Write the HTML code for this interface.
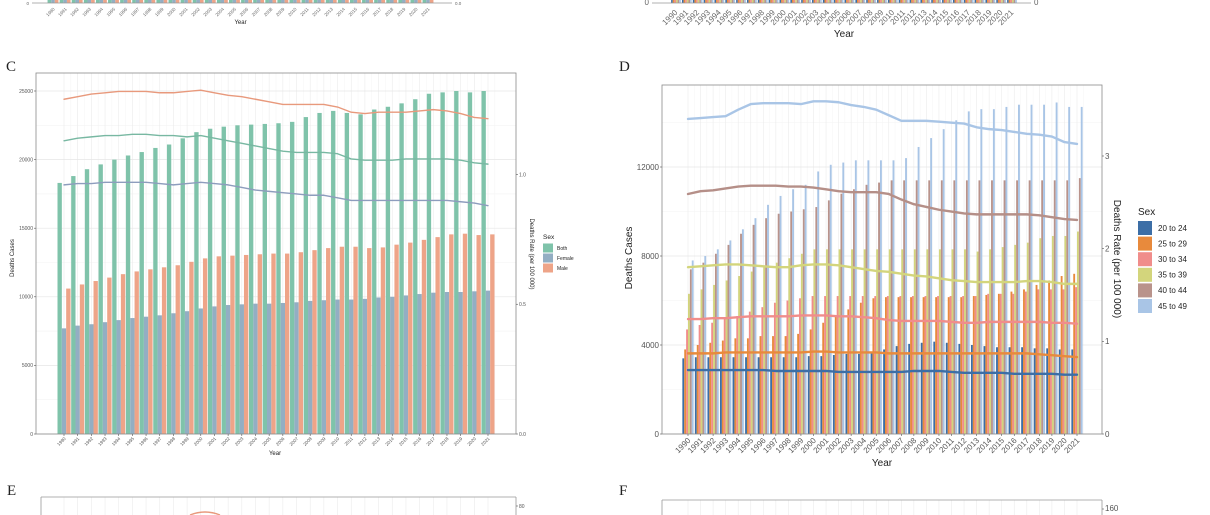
<!DOCTYPE html>
<html><head><meta charset="utf-8"><style>
html,body{margin:0;padding:0;background:#fff;}
svg{display:block;font-family:"Liberation Sans",sans-serif;}
</style></head><body>
<svg id="fig" width="1210" height="515" viewBox="0 0 1210 515" xmlns="http://www.w3.org/2000/svg">
<rect x="0" y="0" width="1210" height="515" fill="#fff"/>
<text x="6" y="71" font-family="Liberation Serif,serif" font-size="15" fill="#222">C</text>
<text x="619" y="71" font-family="Liberation Serif,serif" font-size="15" fill="#222">D</text>
<text x="7" y="495" font-family="Liberation Serif,serif" font-size="15" fill="#222">E</text>
<text x="619" y="495" font-family="Liberation Serif,serif" font-size="15" fill="#222">F</text>
</svg>
<script>
const years = [];
for (let y = 1990; y <= 2021; y++) years.push(y);

// Panel C
const cSeries = ["Both", "Female", "Male"];
const cBoth = [18300,18800,19300,19650,20000,20300,20550,20850,21100,21550,22000,22250,22400,22500,22550,22600,22650,22750,23100,23400,23550,23400,23300,23650,23850,24100,24400,24800,24900,25000,24900,25000];
const cFemale = [7700,7900,8000,8150,8300,8450,8550,8650,8800,8950,9150,9300,9400,9450,9500,9500,9550,9600,9700,9750,9800,9800,9850,9950,10000,10100,10200,10300,10350,10350,10400,10450];
const cMale = [10600,10900,11150,11400,11650,11850,12000,12150,12300,12550,12800,12950,13000,13050,13100,13150,13150,13250,13400,13550,13650,13650,13550,13600,13800,13950,14150,14350,14550,14600,14500,14550];
const cRateBoth = [1.13,1.14,1.145,1.15,1.15,1.155,1.155,1.15,1.15,1.145,1.15,1.14,1.13,1.12,1.11,1.10,1.09,1.085,1.085,1.085,1.08,1.06,1.055,1.055,1.055,1.06,1.06,1.06,1.06,1.055,1.045,1.04];
const cRateFemale = [0.96,0.965,0.965,0.97,0.97,0.97,0.97,0.965,0.96,0.965,0.97,0.965,0.96,0.95,0.94,0.935,0.93,0.925,0.92,0.92,0.91,0.9,0.9,0.9,0.9,0.9,0.9,0.9,0.9,0.895,0.89,0.88];
const cRateMale = [1.29,1.30,1.31,1.315,1.32,1.32,1.32,1.315,1.315,1.32,1.325,1.315,1.305,1.30,1.29,1.28,1.27,1.27,1.27,1.27,1.26,1.24,1.235,1.24,1.24,1.24,1.245,1.25,1.245,1.235,1.22,1.215];
const cLeftTicks = [0,5000,10000,15000,20000,25000];
const cRightTicks = [0.0,0.5,1.0];

// Panel D
const dSeries = ["20 to 24","25 to 29","30 to 34","35 to 39","40 to 44","45 to 49"];
const d20 = [3400,3450,3450,3450,3450,3450,3450,3450,3450,3450,3500,3500,3550,3600,3600,3700,3800,3950,4050,4100,4150,4100,4050,4000,3950,3900,3900,3900,3850,3850,3800,3800];
const d25 = [3800,4000,4100,4200,4300,4300,4400,4400,4400,4500,4700,5000,5300,5600,5900,6100,6150,6150,6150,6150,6150,6150,6150,6200,6250,6300,6400,6500,6700,6900,7100,7200];
const d30 = [4700,4900,5000,5200,5300,5500,5700,5900,6000,6100,6200,6200,6200,6200,6200,6200,6200,6200,6200,6200,6200,6200,6200,6200,6300,6300,6300,6400,6500,6500,6500,6600];
const d35 = [6300,6500,6700,6900,7100,7300,7500,7700,7900,8100,8300,8300,8300,8300,8300,8300,8300,8300,8300,8300,8300,8300,8300,8200,8300,8400,8500,8600,8800,8900,8900,9100];
const d40 = [7400,7700,8100,8500,9000,9400,9700,9900,10000,10100,10200,10500,10800,11000,11200,11300,11400,11400,11400,11400,11400,11400,11400,11400,11400,11400,11400,11400,11400,11400,11400,11500];
const d45 = [7800,8000,8300,8700,9200,9700,10300,10700,11000,11200,11800,12100,12200,12300,12300,12300,12300,12400,12900,13300,13700,14100,14500,14600,14600,14700,14800,14800,14800,14900,14700,14700];
const dRate20 = [0.69,0.69,0.69,0.69,0.69,0.69,0.69,0.68,0.68,0.68,0.68,0.68,0.67,0.67,0.67,0.67,0.67,0.67,0.68,0.68,0.68,0.67,0.66,0.66,0.66,0.66,0.65,0.65,0.65,0.65,0.64,0.64];
const dRate25 = [0.87,0.87,0.87,0.88,0.88,0.88,0.88,0.88,0.88,0.88,0.89,0.89,0.88,0.88,0.88,0.88,0.87,0.87,0.87,0.87,0.87,0.87,0.87,0.87,0.87,0.87,0.87,0.87,0.86,0.85,0.84,0.83];
const dRate30 = [1.24,1.24,1.25,1.25,1.26,1.27,1.27,1.27,1.27,1.28,1.28,1.28,1.27,1.27,1.26,1.25,1.23,1.22,1.22,1.22,1.22,1.21,1.20,1.20,1.21,1.21,1.21,1.21,1.21,1.20,1.20,1.19];
const dRate35 = [1.80,1.81,1.82,1.83,1.83,1.82,1.81,1.80,1.80,1.82,1.83,1.83,1.82,1.80,1.78,1.76,1.75,1.73,1.71,1.70,1.68,1.66,1.65,1.64,1.64,1.64,1.64,1.65,1.65,1.64,1.62,1.62];
const dRate40 = [2.59,2.62,2.63,2.65,2.67,2.68,2.68,2.68,2.67,2.67,2.66,2.64,2.62,2.61,2.61,2.61,2.59,2.53,2.48,2.45,2.42,2.40,2.38,2.37,2.37,2.37,2.37,2.37,2.36,2.34,2.32,2.31];
const dRate45 = [3.40,3.41,3.42,3.43,3.50,3.56,3.57,3.57,3.57,3.56,3.59,3.59,3.58,3.55,3.53,3.50,3.44,3.38,3.38,3.38,3.37,3.36,3.35,3.31,3.29,3.28,3.26,3.24,3.23,3.21,3.15,3.13];
const dLeftTicks = [0,4000,8000,12000];
const dRightTicks = [0,1,2,3];

const NS = "http://www.w3.org/2000/svg";
const svg = document.getElementById("fig");
function mk(tag, attrs, parent, txt) {
  const e = document.createElementNS(NS, tag);
  for (const k in attrs) e.setAttribute(k, attrs[k]);
  if (txt !== undefined) e.textContent = txt;
  (parent || svg).appendChild(e);
  return e;
}

function drawPanel(cfg) {
  const g = mk("g", {});
  
  
  const L = cfg.left, R = cfg.right, T = cfg.top, B = cfg.bottom;
  const yL = v => B - (v / cfg.leftMax) * (B - cfg.leftMaxY);
  const yR = v => B - (v / cfg.rightMax) * (B - cfg.rightMaxY);
  const xC = i => cfg.x0 + i * (cfg.x1 - cfg.x0) / (years.length - 1);
  const step = (cfg.x1 - cfg.x0) / (years.length - 1);
  const minorStep = cfg.leftTicks[1] / 2;
  for (let v = minorStep; yL(v) > T; v += cfg.leftTicks[1]) {
    mk("line", {x1:L, x2:R, y1:yL(v), y2:yL(v), stroke:"#f3f3f3", "stroke-width":0.6}, g);
  }
  years.forEach((yr, i) => {
    mk("line", {x1:xC(i), x2:xC(i), y1:T, y2:B, stroke:"#ebebeb", "stroke-width":0.6}, g);
    mk("line", {x1:xC(i)+step/2, x2:xC(i)+step/2, y1:T, y2:B, stroke:"#f5f5f5", "stroke-width":0.5}, g);
  });
  cfg.leftTicks.forEach(v => {
    mk("line", {x1:L, x2:R, y1:yL(v), y2:yL(v), stroke:"#e6e6e6", "stroke-width":0.7}, g);
  });
  const ns = cfg.series.length;
  const gw = step * cfg.groupFrac, bw = gw / ns;
  cfg.barData.forEach((arr, s) => {
    arr.forEach((v, i) => {
      const r = mk("rect", {x:xC(i) - gw/2 + s*bw, y:yL(v), width:bw*cfg.barFill, height:B - yL(v), fill:cfg.barColors[s]}, g);
      
      
    });
  });
  cfg.lineData.forEach((arr, s) => {
    const d = arr.map((v, i) => (i ? "L" : "M") + xC(i).toFixed(2) + "," + yR(v).toFixed(2)).join(" ");
    const p = mk("path", {d:d, fill:"none", stroke:cfg.lineColors[s], "stroke-width":cfg.lineW, "stroke-linejoin":"round", "stroke-linecap":"round"}, g);
    
    
  });
  mk("rect", {x:L, y:T, width:R-L, height:B-T, fill:"none", stroke:"#8a8a8a", "stroke-width":0.8}, g);
  cfg.leftTicks.forEach(v => {
    mk("line", {x1:L-2, x2:L, y1:yL(v), y2:yL(v), stroke:"#555", "stroke-width":0.6}, g);
    const t = mk("text", {x:L-3, y:yL(v)+cfg.tickFs*0.35, "font-size":cfg.tickFs, fill:"#555", "text-anchor":"end"}, g, String(v));
    
    
  });
  cfg.rightTicks.forEach(v => {
    mk("line", {x1:R, x2:R+2, y1:yR(v), y2:yR(v), stroke:"#555", "stroke-width":0.6}, g);
    const t = mk("text", {x:R+3, y:yR(v)+cfg.tickFs*0.35, "font-size":cfg.tickFs, fill:"#555"}, g, cfg.rightFmt(v));
    
    
  });
  years.forEach((yr, i) => {
    mk("line", {x1:xC(i), x2:xC(i), y1:B, y2:B+2, stroke:"#555", "stroke-width":0.6}, g);
    const x = xC(i) + cfg.xlabDx, y = B + cfg.xlabDy;
    const t = mk("text", {x:x, y:y, "font-size":cfg.xFs, fill:"#555", "text-anchor":"end", transform:"rotate(-45 "+x+" "+y+")"}, g, String(yr));
    
    
  });
  const xt = mk("text", {x:cfg.xTitle[0], y:cfg.xTitle[1], "font-size":cfg.titleFs, fill:"#222", "text-anchor":"middle"}, g, "Year");
  
  
  const yt = mk("text", {x:cfg.yTitle[0], y:cfg.yTitle[1], "font-size":cfg.titleFs, fill:"#222", "text-anchor":"middle", transform:"rotate(-90 "+cfg.yTitle[0]+" "+cfg.yTitle[1]+")"}, g, "Deaths Cases");
  
  
  const y2 = mk("text", {x:cfg.y2Title[0], y:cfg.y2Title[1], "font-size":cfg.titleFs, fill:"#222", "text-anchor":"middle", transform:"rotate(90 "+cfg.y2Title[0]+" "+cfg.y2Title[1]+")"}, g, "Deaths Rate (per 100 000)");
  
  
  const lg = mk("g", {}, g);
  
  
  const lt = mk("text", {x:cfg.leg.x, y:cfg.leg.y, "font-size":cfg.leg.titleFs, fill:"#222"}, lg, "Sex");
  
  
  cfg.series.forEach((s, k) => {
    const yy = cfg.leg.y0 + k * cfg.leg.dy;
    const sw = mk("rect", {x:cfg.leg.x, y:yy - cfg.leg.sh/2, width:cfg.leg.sw, height:cfg.leg.sh, fill:cfg.barColors[k]}, lg);
    
    
    const tx = mk("text", {x:cfg.leg.x + cfg.leg.sw + cfg.leg.gap, y:yy + cfg.leg.fs*0.35, "font-size":cfg.leg.fs, fill:"#222"}, lg, s);
    
    
  });
}

drawPanel({
  name:"panel-c-chart", left:36, right:516, top:73, bottom:434,
  leftMax:25000, leftMaxY:91, rightMax:1.0, rightMaxY:174.5,
  x0:64, x1:488, groupFrac:0.95, barFill:1,
  series:cSeries, barData:[cBoth,cFemale,cMale],
  barColors:["#7fc3aa","#93aec3","#eea488"],
  lineData:[cRateBoth,cRateFemale,cRateMale],
  lineColors:["#78b8a2","#8d9dbd","#e8997c"], lineW:1.4,
  leftTicks:cLeftTicks, rightTicks:cRightTicks, rightFmt:v=>v.toFixed(1),
  tickFs:5, xFs:4.5, xlabDx:2, xlabDy:5, titleFs:6,
  xTitle:[275,455], yTitle:[14,258], y2Title:[530,254],
  leg:{x:543, y:239, y0:248, dy:10, sw:10, sh:9, gap:4, fs:5, titleFs:6.5}
});

drawPanel({
  name:"panel-d-chart", left:662, right:1102, top:85, bottom:434,
  leftMax:12000, leftMaxY:167, rightMax:3, rightMaxY:156,
  x0:688, x1:1077, groupFrac:0.9, barFill:1,
  series:dSeries, barData:[d20,d25,d30,d35,d40,d45],
  barColors:["#3c6ea6","#e88a3c","#f08d8b","#d3d57c","#b9938b","#a9c5e6"],
  lineData:[dRate20,dRate25,dRate30,dRate35,dRate40,dRate45],
  lineColors:["#3c6ea6","#e88a3c","#f08d8b","#d3d57c","#b58f88","#a9c5e6"], lineW:2.4,
  leftTicks:dLeftTicks, rightTicks:dRightTicks, rightFmt:v=>String(v),
  tickFs:8, xFs:8, xlabDx:3, xlabDy:7, titleFs:10,
  xTitle:[882,466], yTitle:[632,258], y2Title:[1114,259],
  leg:{x:1138, y:215, y0:228, dy:15.6, sw:14, sh:14, gap:6, fs:8, titleFs:10}
});

function partialTop(name, L, R, axY, bx0, bx1, colors, xFs, lab0, labR, yearY, titleFs) {
  const g = mk("g", {});
  
  
  const step = (bx1 - bx0) / (years.length - 1);
  const bw = step * 0.9 / colors.length;
  years.forEach((yr, i) => {
    const cx = bx0 + i * step;
    colors.forEach((c, s) => mk("rect", {x:cx - step*0.45 + s*bw, y:0, width:bw, height:axY, fill:c}, g));
    const x = cx + 2, y = axY + xFs + 2;
    mk("text", {x:x, y:y, "font-size":xFs, fill:"#666", "text-anchor":"end", transform:"rotate(-45 "+x+" "+y+")"}, g, String(yr));
  });
  mk("line", {x1:L, x2:R, y1:axY, y2:axY, stroke:"#999", "stroke-width":0.8}, g);
  mk("text", {x:L-3, y:axY+2, "font-size":xFs, fill:"#666", "text-anchor":"end"}, g, lab0);
  mk("text", {x:R+3, y:axY+2, "font-size":xFs, fill:"#666"}, g, labR);
  mk("text", {x:(bx0+bx1)/2, y:yearY, "font-size":titleFs, fill:"#222", "text-anchor":"middle"}, g, "Year");
}
partialTop("panel-a-partial", 32, 452, 3, 53, 428, ["#7fc3aa","#93aec3","#eea488"], 4.5, "0", "0.0", 24, 6);
partialTop("panel-b-partial", 652, 1031, 3, 676, 1012, ["#3c6ea6","#e88a3c","#f08d8b","#d3d57c","#b9938b","#a9c5e6"], 8, "0", "0", 37, 10);

function partialBottom(name, L, R, T, lab, x0, x1) {
  const g = mk("g", {});
  
  
  const step = (x1 - x0) / (years.length - 1);
  years.forEach((yr, i) => {
    mk("line", {x1:x0+i*step, x2:x0+i*step, y1:T, y2:515, stroke:"#ebebeb", "stroke-width":0.6}, g);
  });
  mk("line", {x1:L, x2:R, y1:T, y2:T, stroke:"#999", "stroke-width":0.8}, g);
  mk("line", {x1:L, x2:L, y1:T, y2:515, stroke:"#999", "stroke-width":0.8}, g);
  mk("line", {x1:R, x2:R, y1:T, y2:515, stroke:"#999", "stroke-width":0.8}, g);
  mk("line", {x1:R, x2:R+2, y1:T+9, y2:T+9, stroke:"#555", "stroke-width":0.6}, g);
  mk("text", {x:R+3, y:T+11, "font-size":(R>600?8:5), fill:"#555"}, g, lab);
}
partialBottom("panel-e-partial", 41, 516, 497, "80", 64, 488);
partialBottom("panel-f-partial", 662, 1102, 500, "160", 688, 1077);
const eArc = mk("path", {d:"M190,515 Q205,509 220,515", fill:"none", stroke:"#e8997c", "stroke-width":1.4});


</script>
</body></html>
